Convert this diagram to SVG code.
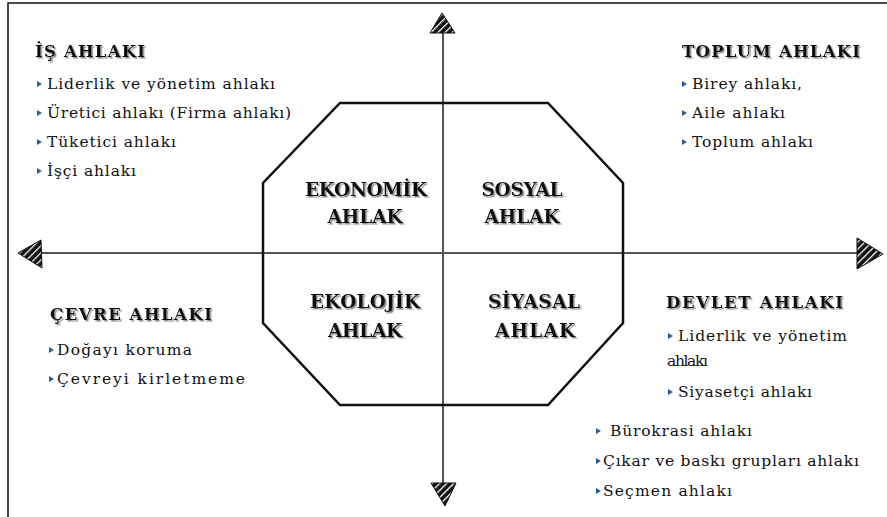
<svg xmlns="http://www.w3.org/2000/svg" width="887" height="517" viewBox="0 0 887 517">
<style>
text{font-family:"DejaVu Serif","Liberation Serif","Times New Roman",serif;fill:#111}
.h{font-weight:bold;font-size:16.5px;filter:url(#sh)}
.q{font-weight:bold;font-size:18.5px;filter:url(#sh);text-anchor:middle}
.i{font-size:15.5px}
.ax{stroke:#555;stroke-width:2;fill:none}
.ah{fill:url(#hatch);stroke:#111;stroke-width:1}
</style>
<defs>
<filter id="sh" x="-10%" y="-30%" width="130%" height="170%">
<feDropShadow dx="1.5" dy="1.5" stdDeviation="0.7" flood-color="#888"/>
</filter>
<pattern id="hatch" patternUnits="userSpaceOnUse" width="5" height="5" patternTransform="rotate(-45)">
<rect width="5" height="5" fill="#111"/>
<rect x="0" y="2" width="5" height="1.3" fill="#fff"/>
</pattern>
<path id="b" d="M0,-3 L5,0 L0,3Z" fill="#2d5d91"/>
</defs>
<path d="M8,517 V3 H887" fill="none" stroke="#111" stroke-width="1.5"/>
<g id="connectors">
<line class="ax" x1="443" y1="32" x2="443" y2="484"/>
<line class="ax" x1="40" y1="253" x2="858" y2="253"/>
<polygon class="ah" points="442,13 455,33 430,33"/>
<polygon class="ah" points="883,254 857,269 857,238"/>
<polygon class="ah" points="445,506 431,483 456,483"/>
<polygon class="ah" points="18,253 41,240 42,268"/>
</g>
<g id="octagon">
<polygon points="340,103 548,103 623,183 623,323 548,405 340,405 263,323 263,183" fill="none" stroke="#111" stroke-width="2.5"/>
</g>
<g id="ekonomik">
<text class="q" x="366" y="196" textLength="122">EKONOMİK</text>
<text class="q" x="365" y="223" textLength="75">AHLAK</text>
</g>
<g id="sosyal">
<text class="q" x="522" y="196" textLength="81">SOSYAL</text>
<text class="q" x="522" y="223" textLength="75">AHLAK</text>
</g>
<g id="ekolojik">
<text class="q" x="365" y="308" textLength="110">EKOLOJİK</text>
<text class="q" x="365" y="337" textLength="74">AHLAK</text>
</g>
<g id="siyasal">
<text class="q" x="534" y="308" textLength="92">SİYASAL</text>
<text class="q" x="535" y="337" textLength="80">AHLAK</text>
</g>
<g id="is-ahlaki">
<text class="h" x="35" y="57" textLength="110">İŞ AHLAKI</text>
<use href="#b" x="37" y="84"/><text class="i" x="47" y="89" textLength="228">Liderlik ve yönetim ahlakı</text>
<use href="#b" x="37" y="113"/><text class="i" x="47" y="118" textLength="244">Üretici ahlakı (Firma ahlakı)</text>
<use href="#b" x="37" y="142"/><text class="i" x="47" y="147" textLength="129">Tüketici ahlakı</text>
<use href="#b" x="37" y="171"/><text class="i" x="47" y="176" textLength="89">İşçi ahlakı</text>
</g>
<g id="toplum-ahlaki">
<text class="h" x="682" y="57" textLength="178">TOPLUM AHLAKI</text>
<use href="#b" x="682" y="84"/><text class="i" x="692" y="89" textLength="110">Birey ahlakı,</text>
<use href="#b" x="682" y="113"/><text class="i" x="692" y="118" textLength="93">Aile ahlakı</text>
<use href="#b" x="682" y="142"/><text class="i" x="692" y="147" textLength="121">Toplum ahlakı</text>
</g>
<g id="cevre-ahlaki">
<text class="h" x="50" y="320" textLength="162">ÇEVRE AHLAKI</text>
<use href="#b" x="49" y="350"/><text class="i" x="57" y="355" textLength="135">Doğayı koruma</text>
<use href="#b" x="49" y="379"/><text class="i" x="57" y="384" textLength="188">Çevreyi kirletmeme</text>
</g>
<g id="devlet-ahlaki">
<text class="h" x="666" y="308" textLength="177">DEVLET AHLAKI</text>
<use href="#b" x="668" y="336"/><text class="i" x="678" y="341" textLength="169">Liderlik ve yönetim</text>
<text class="i" x="667" y="366" textLength="41">ahlakı</text>
<use href="#b" x="668" y="392"/><text class="i" x="678" y="397" textLength="134">Siyasetçi ahlakı</text>
<use href="#b" x="596" y="431"/><text class="i" x="610" y="436" textLength="142">Bürokrasi ahlakı</text>
<use href="#b" x="596" y="461"/><text class="i" x="603" y="466" textLength="256">Çıkar ve baskı grupları ahlakı</text>
<use href="#b" x="596" y="491"/><text class="i" x="603" y="496" textLength="129">Seçmen ahlakı</text>
</g>
</svg>
